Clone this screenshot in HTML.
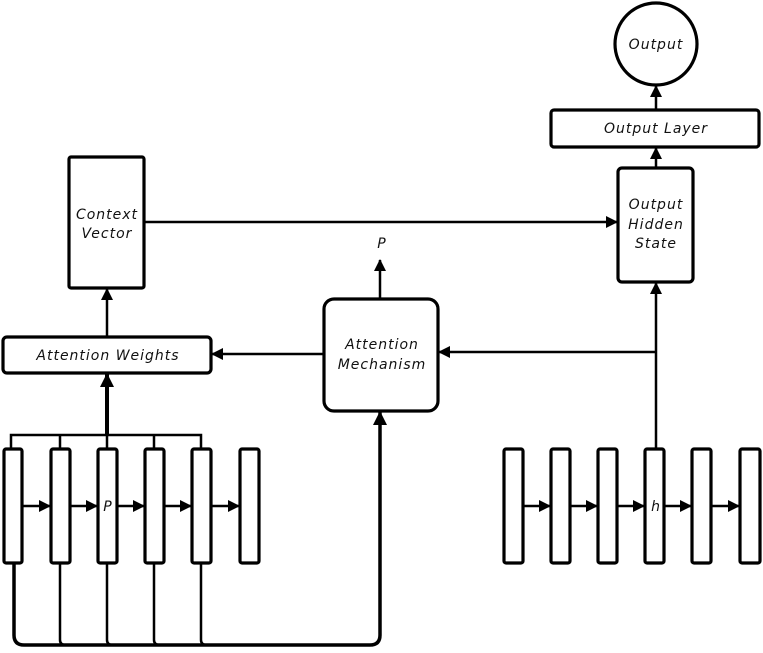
<!DOCTYPE html>
<html><head><meta charset="utf-8"><style>
html,body{margin:0;padding:0;background:#fff;width:763px;height:653px;overflow:hidden}
text{font-family:"Comic Sans MS","DejaVu Sans",sans-serif;font-style:italic;font-size:14px;fill:#111;letter-spacing:1px}
</style></head><body>
<svg width="763" height="653" viewBox="0 0 763 653" xmlns="http://www.w3.org/2000/svg">
<defs><marker id="a" markerWidth="12" markerHeight="12" refX="11" refY="6" orient="auto" markerUnits="userSpaceOnUse"><path d="M0,0 L12,6 L0,12 z" fill="#000"/></marker>
<marker id="b" markerWidth="14" markerHeight="14" refX="13" refY="7" orient="auto" markerUnits="userSpaceOnUse"><path d="M0,0 L14,7 L0,14 z" fill="#000"/></marker></defs>
<g fill="none" stroke="#000" stroke-width="3.2">
<circle cx="656" cy="44" r="41"/>
<rect x="551" y="110" width="208" height="37" rx="3"/>
<rect x="618" y="168" width="75" height="114" rx="4"/>
<rect x="69" y="157" width="75" height="131" rx="2"/>
<rect x="3" y="337" width="208" height="36" rx="4"/>
<rect x="324" y="299" width="114" height="112" rx="10"/>
<rect x="4" y="449" width="18" height="114" rx="2"/>
<rect x="51" y="449" width="19" height="114" rx="2"/>
<rect x="98" y="449" width="19" height="114" rx="2"/>
<rect x="145" y="449" width="19" height="114" rx="2"/>
<rect x="192" y="449" width="19" height="114" rx="2"/>
<rect x="240" y="449" width="19" height="114" rx="2"/>
<rect x="504" y="449" width="19" height="114" rx="2"/>
<rect x="551" y="449" width="19" height="114" rx="2"/>
<rect x="598" y="449" width="19" height="114" rx="2"/>
<rect x="645" y="449" width="19" height="114" rx="2"/>
<rect x="692" y="449" width="19" height="114" rx="2"/>
<rect x="740" y="449" width="20" height="114" rx="2"/>
</g>
<g fill="none" stroke="#000" stroke-width="2.5">
<line x1="656" y1="110" x2="656" y2="86" marker-end="url(#a)"/>
<line x1="656" y1="168" x2="656" y2="148" marker-end="url(#a)"/>
<line x1="144" y1="222" x2="617" y2="222" marker-end="url(#a)"/>
<line x1="107" y1="337" x2="107" y2="289" marker-end="url(#a)"/>
<line x1="324" y1="354" x2="212" y2="354" marker-end="url(#a)"/>
<line x1="380" y1="299" x2="380" y2="260" marker-end="url(#a)"/>
<line x1="656" y1="449" x2="656" y2="283" marker-end="url(#a)"/>
<line x1="656" y1="352" x2="439" y2="352" marker-end="url(#a)"/>
<path d="M11,449 V435 H201 V449 M60,435 V449 M107,435 V449 M154,435 V449"/>
<line x1="107" y1="435" x2="107" y2="374" stroke-width="4" marker-end="url(#b)"/>
<path d="M14,563 V635 Q14,645 24,645 H370 Q380,645 380,635 V412" stroke-width="3.5" marker-end="url(#b)"/>
<path d="M60,563 V640 Q60,645 66,645 M107,563 V640 Q107,645 113,645 M154,563 V640 Q154,645 160,645 M201,563 V640 Q201,645 207,645"/>
<line x1="22" y1="506" x2="50" y2="506" marker-end="url(#a)"/>
<line x1="70" y1="506" x2="97" y2="506" marker-end="url(#a)"/>
<line x1="117" y1="506" x2="144" y2="506" marker-end="url(#a)"/>
<line x1="164" y1="506" x2="191" y2="506" marker-end="url(#a)"/>
<line x1="211" y1="506" x2="239" y2="506" marker-end="url(#a)"/>
<line x1="523" y1="506" x2="550" y2="506" marker-end="url(#a)"/>
<line x1="570" y1="506" x2="597" y2="506" marker-end="url(#a)"/>
<line x1="617" y1="506" x2="644" y2="506" marker-end="url(#a)"/>
<line x1="664" y1="506" x2="691" y2="506" marker-end="url(#a)"/>
<line x1="711" y1="506" x2="739" y2="506" marker-end="url(#a)"/>
</g>
<g text-anchor="middle">
<text x="656" y="49">Output</text>
<text x="656" y="133">Output Layer</text>
<text x="656" y="209">Output</text>
<text x="656" y="229">Hidden</text>
<text x="656" y="248">State</text>
<text x="107" y="219">Context</text>
<text x="107" y="238">Vector</text>
<text x="108" y="360">Attention Weights</text>
<text x="382" y="349">Attention</text>
<text x="382" y="369">Mechanism</text>
<text x="382" y="248">P</text>
<text x="108" y="511">P</text>
<text x="656" y="511">h</text>
</g>
</svg>
</body></html>
